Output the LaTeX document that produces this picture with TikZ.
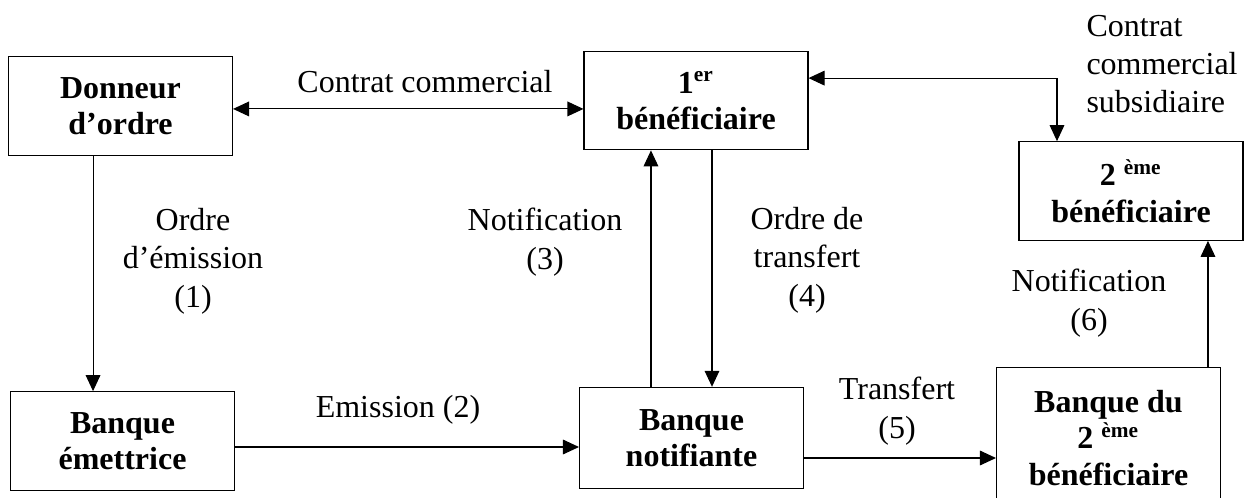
\documentclass[tikz,border=0pt]{standalone}
\usepackage{fontspec}
\setmainfont{Liberation Serif}
\usetikzlibrary{arrows.meta,positioning}
\tikzset{
  bx/.style = {draw, thin, rectangle, minimum width=84pt, minimum height=37pt, inner sep=0pt, align=center, font=\fontsize{12pt}{13.6pt}\selectfont\bfseries},
  lbl/.style = {align=center, inner sep=0pt, font=\fontsize{12pt}{14.4pt}\selectfont},
  arrow/.style = {thin, -{Triangle[length=6pt, width=5.5pt]}},
  darrow/.style = {thin, {Triangle[length=6pt, width=5.5pt]}-{Triangle[length=6pt, width=5.5pt]}}
}
\begin{document}
\begin{tikzpicture}[x=0.375pt, y=-0.375pt]
  \useasboundingbox (0,0) rectangle (1244,497);
  % parties
  \node[bx] (donneur) at (120.5,106) {Donneur\\d’ordre};
  \node[bx] (emettrice) at (122.5,441) {Banque\\émettrice};
  \node[bx] (premier) at (696,100.5) {1\textsuperscript{er}\\bénéficiaire};
  \node[bx, minimum height=38pt] (notifiante) at (691.5,438) {Banque\\notifiante};
  \node[bx] (second) at (1131,191) {2 \textsuperscript{ème}\\bénéficiaire};
  \node[bx, minimum height=53pt] (bdeux) at (1108.5,438) {Banque du\\2 \textsuperscript{ème}\\bénéficiaire};
  % flux
  \draw[darrow] ([yshift=-1.1pt]donneur.east) -- ([yshift=-1.1pt]donneur.east -| premier.west);
  \draw[darrow] ([yshift=8.4pt]premier.east) -| ([xshift=-27.75pt]second.north);
  \draw[arrow] ([xshift=-10.3pt]donneur.south) -- ([xshift=-10.3pt]donneur.south |- emettrice.north);
  \draw[arrow] ([yshift=-2.25pt]emettrice.east) -- ([yshift=-2.25pt]emettrice.east -| notifiante.west);
  \draw[arrow] ([xshift=-15.2pt]notifiante.north) -- ([xshift=-15.2pt]notifiante.north |- premier.south);
  \draw[arrow] ([xshift=6pt]premier.south) -- ([xshift=6pt]premier.south |- notifiante.north);
  \draw[arrow] ([yshift=-7.5pt]notifiante.east) -- ([yshift=-7.5pt]notifiante.east -| bdeux.west);
  \draw[arrow] ([xshift=37.3pt]bdeux.north) -- ([xshift=37.3pt]bdeux.north |- second.south);
  % libellés
  \node[lbl] (lcc) at (425,82) {Contrat commercial};
  \node[lbl, align=left, anchor=west] (lccs) at (1086,64) {Contrat\\commercial\\subsidiaire};
  \node[lbl] (l1) at (193,261) {Ordre\\d’émission\\(1)};
  \node[lbl] (l2) at (398,410) {Emission (2)};
  \node[lbl] (l3) at (545,242) {Notification\\(3)};
  \node[lbl] (l4) at (807,260) {Ordre de\\transfert\\(4)};
  \node[lbl] (l5) at (897,411) {Transfert\\(5)};
  \node[lbl] (l6) at (1089,303) {Notification\\(6)};
\end{tikzpicture}
\end{document}
